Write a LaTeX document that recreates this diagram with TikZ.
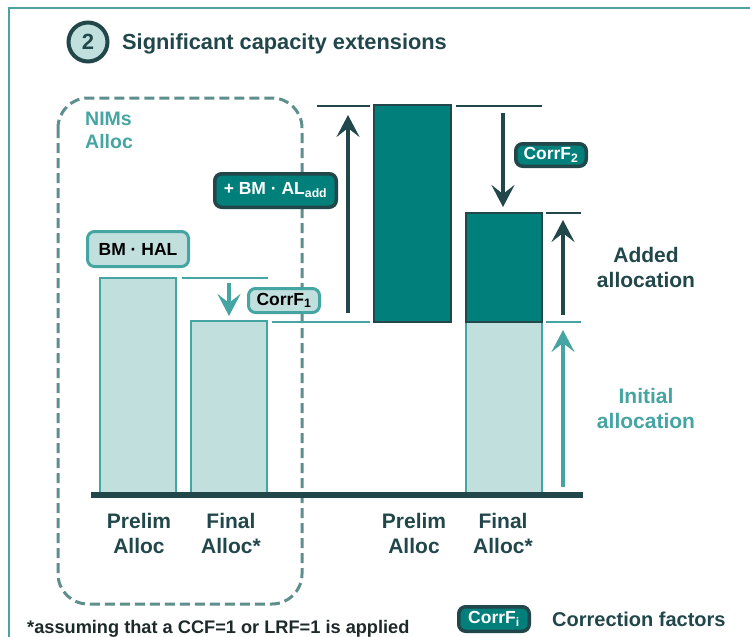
\documentclass[tikz,border=0pt]{standalone}
\usepackage{fontspec}
\setmainfont{Liberation Sans}
\usetikzlibrary{arrows.meta}
\definecolor{dk}{HTML}{22474A}
\definecolor{tl}{HTML}{45A5A3}
\definecolor{lt}{HTML}{C0DFDD}
\definecolor{dp}{HTML}{007F7B}
\definecolor{gd}{HTML}{5F8F8C}
\definecolor{fr}{HTML}{4AA3A0}
\definecolor{fn}{HTML}{1E2A2A}
\begin{document}
\begin{tikzpicture}[x=1pt,y=-1pt,
  lab/.style={font=\fontsize{21}{25}\selectfont\bfseries, text=dk, align=center, inner sep=0pt},
  lightbar/.style={draw=tl, line width=2pt, fill=lt, inner sep=0pt},
  darkbar/.style={draw=dk, line width=2pt, fill=dp, inner sep=0pt},
  lbox/.style={draw=tl, fill=lt, line width=3pt, rounded corners=7pt, text=black,
    font=\fontsize{17.5}{20}\selectfont\bfseries, inner sep=0pt},
  dbox/.style={draw=dk, fill=dp, line width=3.5pt, rounded corners=7pt, text=white,
    font=\fontsize{17.5}{20}\selectfont\bfseries, inner sep=0pt},
  tickd/.style={draw=dk, line width=2.5pt},
  tickt/.style={draw=tl, line width=2.5pt},
  arrd/.style={draw=dk, line width=4pt, -{Stealth[length=22pt,width=23pt,inset=9pt]}},
  arrt/.style={draw=tl, line width=4pt, -{Stealth[length=22pt,width=23pt,inset=9pt]}}
]
\useasboundingbox (0,0) rectangle (750,637);
\fill[white] (0,0) rectangle (750,637);

% frame
\coordinate (fa) at (750,8);
\coordinate (fb) at (9,8);
\coordinate (fc) at (9,637);
\draw[fr, line width=1.3pt] (fa) -- (fb) -- (fc);

% title
\node[circle, draw=dk, line width=4pt, fill=lt, minimum size=39pt, inner sep=0pt,
  font=\fontsize{22}{26}\selectfont\bfseries, text=dk] (num) at (88,42) {2};
\node[anchor=base west, inner sep=0pt, font=\fontsize{21.8}{26}\selectfont\bfseries, text=dk]
  (title) at (122,49) {Significant capacity extensions};

% NIMs dashed box
\draw[gd, line width=3pt, dash pattern=on 10pt off 5pt, rounded corners=30pt] (58,98) rectangle (302,604);
\node[font=\fontsize{19.5}{23}\selectfont\bfseries, text=tl, align=left, inner sep=0pt, anchor=west]
  (nims) at (85,130.5) {NIMs\\Alloc};

% bars
\node[lightbar, minimum width=76pt, minimum height=217pt] (b1) at (138,386.5) {};
\node[lightbar, minimum width=76pt, minimum height=174pt] (b2) at (229,408) {};
\node[darkbar, minimum width=77pt, minimum height=217pt] (b3) at (412.5,213.5) {};
\node[lightbar, minimum width=76pt, minimum height=173pt] (b4l) at (504,408.5) {};
\node[darkbar, minimum width=76pt, minimum height=109pt] (b4u) at (504,267.5) {};

% baseline
\coordinate (ba) at (91,495);
\coordinate (bb) at (583,495);
\draw[dk, line width=6pt] (ba) -- (bb);

% reference ticks
\coordinate (t1a) at (182,278); \coordinate (t1b) at (268,278);
\draw[tickt] (t1a) -- (t1b);
\coordinate (t2a) at (272,322); \coordinate (t2b) at (370,322);
\draw[tickt] (t2a) -- (t2b);
\coordinate (t3a) at (317,106); \coordinate (t3b) at (370,106);
\draw[tickd] (t3a) -- (t3b);
\coordinate (t4a) at (456,106); \coordinate (t4b) at (542,106);
\draw[tickd] (t4a) -- (t4b);
\coordinate (t5a) at (546,213); \coordinate (t5b) at (581,213);
\draw[tickd] (t5a) -- (t5b);
\coordinate (t6a) at (546,322); \coordinate (t6b) at (581,322);
\draw[tickt] (t6a) -- (t6b);

% arrows
\coordinate (a1s) at (229,283); \coordinate (a1e) at (229,316);
\draw[arrt] (a1s) -- (a1e);
\coordinate (a2s) at (348,313); \coordinate (a2e) at (348,115);
\draw[arrd] (a2s) -- (a2e);
\coordinate (a3s) at (503,113); \coordinate (a3e) at (503,207);
\draw[arrd] (a3s) -- (a3e);
\coordinate (a4s) at (563,315); \coordinate (a4e) at (563,220);
\draw[arrd] (a4s) -- (a4e);
\coordinate (a5s) at (563,487); \coordinate (a5e) at (563,330);
\draw[arrt] (a5s) -- (a5e);

% formula boxes
\node[lbox, minimum width=101pt, minimum height=35pt] (hal) at (138,249) {BM · HAL};
\node[lbox, minimum width=71pt, minimum height=24pt] (cf1) at (284,300.5) {CorrF\textsubscript{1}};
\node[dbox, minimum width=121.5pt, minimum height=33.5pt] (aladd) at (275.5,190.5) {+ BM · AL\textsubscript{add}};
\node[dbox, minimum width=70.5pt, minimum height=22.5pt] (cf2) at (551,155) {CorrF\textsubscript{2}};

% side labels
\node[lab] (added) at (646,267) {Added\\allocation};
\node[lab, text=tl] (initial) at (646,408) {Initial\\allocation};

% bar labels
\node[lab] (l1) at (139,533) {Prelim\\Alloc};
\node[lab] (l2) at (231,533) {Final\\Alloc*};
\node[lab] (l3) at (414,533) {Prelim\\Alloc};
\node[lab] (l4) at (503,533) {Final\\Alloc*};

% footnote and legend
\node[anchor=base west, inner sep=0pt, font=\fontsize{18.2}{21}\selectfont\bfseries, text=fn]
  (foot) at (27,633) {*assuming that a CCF=1 or LRF=1 is applied};
\node[dbox, minimum width=70.5pt, minimum height=24.5pt] (leg) at (494,619) {CorrF\textsubscript{i}};
\node[anchor=base west, inner sep=0pt, font=\fontsize{20}{24}\selectfont\bfseries, text=dk]
  (legt) at (552,626) {Correction factors};
\end{tikzpicture}
\end{document}
